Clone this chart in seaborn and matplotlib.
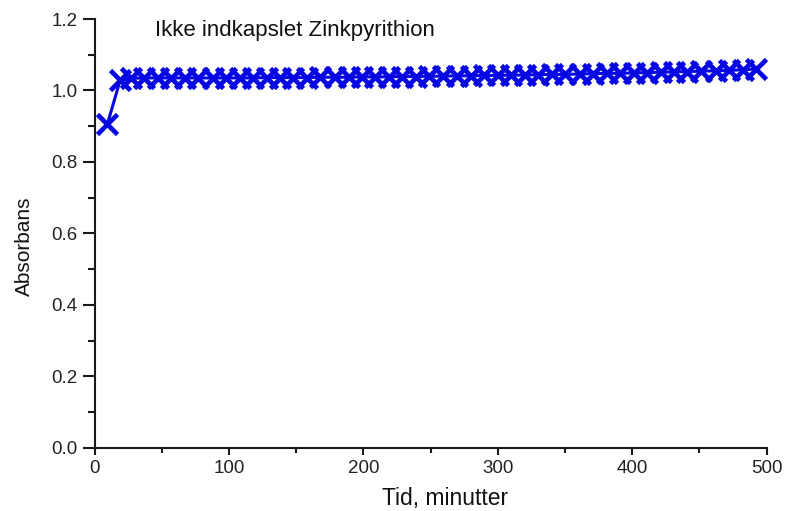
import matplotlib
matplotlib.use("Agg")
import matplotlib.pyplot as plt
from matplotlib.ticker import MultipleLocator
import seaborn as sns
import pandas as pd

# Time of each absorbance reading (minutes)
tid = [9.5, 19,
       27, 37, 47, 57, 67, 77, 88, 98, 108, 118, 128, 138, 148, 158, 168,
       179, 189, 199, 209, 219, 229, 239, 249, 259, 270, 280, 290, 300, 310,
       320, 330, 340, 350, 361, 371, 381, 391, 401, 411, 421, 431, 441, 451,
       462, 472, 482, 492]

# Measured absorbance
absorbans = [0.905, 1.028,
             1.034, 1.035, 1.035, 1.035, 1.035, 1.035, 1.035, 1.035, 1.035,
             1.035, 1.036, 1.036, 1.036, 1.036, 1.037, 1.037, 1.037, 1.038,
             1.038, 1.038, 1.039, 1.039, 1.040, 1.040, 1.041, 1.041, 1.042,
             1.042, 1.043, 1.043, 1.044, 1.045, 1.045,
             1.046, 1.047, 1.048, 1.048, 1.049, 1.050, 1.051, 1.052, 1.053,
             1.054, 1.055, 1.056, 1.058, 1.060]

x_ticks = [0, 100, 200, 300, 400, 500]
y_ticks = [0.0, 0.2, 0.4, 0.6, 0.8, 1.0, 1.2]
y_labels = ["0.0", "0.2", "0.4", "0.6", "0.8", "1.0", "1.2"]

df = pd.DataFrame({"tid": tid, "absorbans": absorbans})

sns.set_theme(style="ticks")
plt.rcParams["font.family"] = ["Liberation Sans", "DejaVu Sans"]

fig = plt.figure(figsize=(7.85, 5.11), dpi=100)
ax = fig.add_axes([0.1204, 0.1239, 0.8563, 0.8389])

blue = "#0707e2"
sns.lineplot(data=df, x="tid", y="absorbans", ax=ax, color=blue, lw=2.2,
             marker="x", markersize=14, markeredgewidth=3.4,
             markeredgecolor=blue)

ax.set_xlim(0, 500)
ax.set_ylim(0.0, 1.2)
ax.set_xticks(x_ticks)
ax.set_yticks(y_ticks)
ax.set_yticklabels(y_labels)
ax.xaxis.set_minor_locator(MultipleLocator(50))
ax.yaxis.set_minor_locator(MultipleLocator(0.1))

for side in ("top", "right"):
    ax.spines[side].set_visible(False)
for side in ("left", "bottom"):
    ax.spines[side].set_linewidth(1.5)
    ax.spines[side].set_color("#1a1a1a")

ax.tick_params(which="both", colors="#1a1a1a", labelcolor="#222222",
               width=1.5, direction="out", labelsize=13.5)
ax.tick_params(axis="x", which="major", length=5, pad=4)
ax.tick_params(axis="x", which="minor", length=3.3)
ax.tick_params(axis="y", which="major", length=8.6, pad=3.5)
ax.tick_params(axis="y", which="minor", length=5)

ax.set_xlabel("Tid, minutter", fontsize=16.5, color="#111111")
ax.set_ylabel("Absorbans", fontsize=15, color="#111111")
ax.xaxis.set_label_coords(0.521, -0.092)
ax.yaxis.set_label_coords(-0.09, 0.47)

ax.text(0.09, 0.96, "Ikke indkapslet Zinkpyrithion", transform=ax.transAxes,
        fontsize=16, color="#111111", va="baseline", ha="left")

fig.savefig("out.png", dpi=100)
